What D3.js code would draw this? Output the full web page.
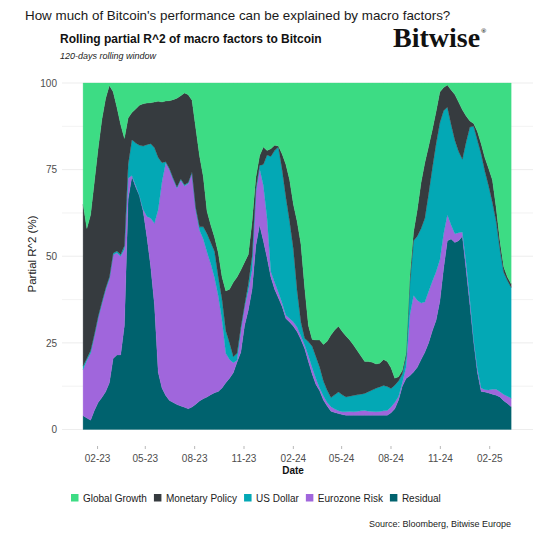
<!DOCTYPE html>
<html>
<head>
<meta charset="utf-8">
<script src="https://cdn.jsdelivr.net/npm/d3@7"></script>
<style>
  body { margin: 0; background: #fff; }
  svg { display: block; font-family: "Liberation Sans", Arial, sans-serif; }
</style>
</head>
<body>
<div id="chart"></div>
<script>
// weekly observations, first one on 2023-01-06
const startDate = "2023-01-06";

const residual = [
  4, 3.3, 2.7, 5.5, 7.8, 9.2, 10.9, 13.5, 20.5, 21.5,
  21.5, 30, 66.5, 73, 70, 67.5, 63, 55.5, 47, 36,
  16.5, 12, 9.8, 8.4, 7.8, 7.2, 6.8, 6.4, 6, 6.5,
  7.3, 8.2, 8.9, 9.4, 10, 10.6, 11, 12, 13.5, 14.8,
  16.4, 19.5, 22.3, 30, 34.5, 40.5, 53, 59, 54.5, 49.5,
  44, 40.5, 38, 35.5, 32, 31, 29.8, 28.2, 26, 23.4,
  19.6, 16, 13, 11.2, 8.5, 6.8, 5.3, 4.9, 4.6, 4.3,
  4.1, 4.1, 4.1, 4.1, 4.1, 4.1, 4.1, 4.1, 4.1, 4.1,
  4.1, 4.1, 4.8, 6, 8.5, 12.5, 14.7, 15.5, 16.6, 18,
  20.2, 22.3, 25, 28.5, 31.5, 37, 46.5, 54.5, 55, 54,
  54.5, 55.8, 46, 36, 25.5, 16.5, 11, 10.8, 10.5, 10.2,
  9.9, 9.4, 8.3, 7.5, 6.6
];
const eurozone = [
  13.3, 16.7, 19.3, 21.5, 24.3, 27.1, 29.4, 30, 29.9, 29.5,
  28.5, 22, 6, 0.3, 0.5, 0, 0.5, 6, 14, 23.5,
  47, 59.5, 67.2, 66.6, 64.4, 62.5, 65.2, 63.9, 65, 67.5,
  56.2, 49.3, 46.1, 41.8, 37.8, 33.2, 27.5, 19.5, 8.5, 5.4,
  2.9, 0.5, 6.2, 5.5, 5.7, 5.5, 15.5, 16.3, 16, 11.5,
  1.5, 2, 1.6, 1, 1, 1, 1.2, 1.3, 1, 1,
  1.7, 1.8, 1.7, 0.7, 1.2, 1, 1.3, 1, 0.8, 0.8,
  1, 1.1, 1, 1.1, 1.3, 1.4, 1.2, 1.1, 1, 1.1,
  1.3, 1.4, 1.7, 1.8, 1, 1, 3.3, 17.5, 22.1, 19.3,
  16.3, 14.5, 14.8, 14.3, 14, 12, 10, 7.5, 4, 2.5,
  2.3, 1.2, 2, 1.5, 0.5, 1, 1, 0.7, 0.9, 1.4,
  1.7, 1.5, 1.8, 2.1, 2.4
];
const usDollar = [
  1, 0.5, 0.8, 0.5, 0.5, 0.5, 0.5, 0.5, 0.5, 0.5,
  0.5, 1, 4, 10.3, 12.2, 14.5, 18.3, 20.7, 21.5, 21.8,
  15, 5.5, 0.3, 0.3, 0.3, 0.3, 0.3, 0.3, 0.3, 0.3,
  0.5, 1, 3.5, 5.3, 6.2, 7.6, 5.5, 6, 6.5, 4.8,
  1.7, 2, 1, 0.5, 1.8, 4, 1, 0.9, 6, 18.2,
  33.3, 38, 41.9, 38.5, 34, 28, 21, 10.5, 4, 1.9,
  4, 6.2, 6.3, 6.1, 4.3, 3.5, 2.6, 4.1, 5.4, 4.9,
  4.3, 4.4, 4.7, 4.8, 4.8, 4.9, 5.6, 6.2, 6.8, 7.1,
  7.3, 6.9, 5.3, 5, 4.5, 2.5, 3, 9, 15.8, 18.5,
  21.5, 24.2, 28.2, 32.7, 37, 39.5, 35.5, 31, 29, 27,
  23.4, 21, 35, 49.8, 61.5, 66, 67.5, 63, 58.9, 53.9,
  48.4, 41.1, 35.3, 33.4, 32
];
const monetary = [
  46.7, 37.5, 39.2, 44, 48.4, 52.7, 54.7, 55.3, 46.6, 41.5,
  37.5, 31, 13.4, 7.9, 9.8, 11.6, 12.2, 12, 11.8, 13.2,
  16.2, 17.5, 17.5, 19.6, 22.7, 25.6, 24, 26.5, 25.3, 20.7,
  23, 20.5, 14.5, 6.5, 5, 4.1, 7, 6.5, 11.5, 15.5,
  21.5, 22, 16.5, 12.3, 8.5, 10, 3.2, 2.8, 5, 1.3,
  2.2, 1.5, 0.3, 4.5, 9.5, 12, 13, 20, 22.5, 14.7,
  4.7, 2, 4.8, 7.8, 10.5, 14.2, 18.1, 18.7, 19, 18.3,
  17.6, 16.2, 14.6, 12.8, 11, 9.2, 8.7, 8, 7, 6.8,
  7.5, 7.2, 6, 2, 1.2, 1, 1, 2, 2.5, 7.7,
  13.3, 16, 13.7, 11, 9.3, 8.9, 6.7, 6.4, 10, 13.2,
  14.3, 14.3, 7.5, 1.7, 0.8, 2.5, 3, 3.9, 5, 6.5,
  4, 2.5, 1.6, 1, 1
];
const globalGrowth = [
  35, 42, 38, 28.5, 19, 10.5, 4.5, 0.7, 2.5, 7,
  12, 16, 10.1, 8.5, 7.5, 6.4, 6, 5.8, 5.7, 5.5,
  5.3, 5.5, 5.2, 5.1, 4.8, 4.4, 3.7, 2.9, 3.4, 5,
  13, 21, 27, 37, 41, 44.5, 49, 56, 60, 59.5,
  57.5, 56, 54, 51.7, 49.5, 40, 27.3, 21, 18.5, 19.5,
  19, 18, 18.2, 20.5, 23.5, 28, 35, 40, 46.5, 59,
  70, 74, 74.2, 74.2, 75.5, 74.5, 72.7, 71.3, 70.2, 71.7,
  73, 74.2, 75.6, 77.2, 78.8, 80.4, 80.4, 80.6, 81.1, 80.9,
  79.8, 80.4, 82.2, 85.2, 84.8, 83, 78, 56, 43, 36.5,
  28.7, 23, 18.3, 13.5, 8.2, 2.6, 1.3, 0.6, 2, 3.3,
  5.5, 7.7, 9.5, 11, 11.7, 14, 17.5, 21.6, 24.7, 28,
  36, 45.5, 53, 56, 58
];

// legend order (left to right) and stack order (bottom to top)
const legendNames = ["Global Growth", "Monetary Policy", "US Dollar", "Eurozone Risk", "Residual"];
const stackKeys = ["Residual", "Eurozone Risk", "US Dollar", "Monetary Policy", "Global Growth"];
const colors = {
  "Global Growth": "#3ddc84",
  "Monetary Policy": "#363b3f",
  "US Dollar": "#03a8b5",
  "Eurozone Risk": "#a066dc",
  "Residual": "#00626e"
};
const yTicks = [0, 25, 50, 75, 100];
const yGrid = [0, 12.5, 25, 37.5, 50, 62.5, 75, 87.5, 100];
const xTickDates = ["2023-02-01", "2023-05-01", "2023-08-01", "2023-11-01", "2024-02-01",
                    "2024-05-01", "2024-08-01", "2024-11-01", "2025-02-01"];

const W = 546, H = 541;
const parse = d3.timeParse("%Y-%m-%d");
const t0 = parse(startDate);

// build rows for d3.stack
const rows = residual.map((d, i) => ({
  date: d3.timeDay.offset(t0, 7 * i),
  "Residual": residual[i],
  "Eurozone Risk": eurozone[i],
  "US Dollar": usDollar[i],
  "Monetary Policy": monetary[i],
  "Global Growth": globalGrowth[i]
}));

const svg = d3.select("#chart").append("svg")
  .attr("width", W)
  .attr("height", H);

// data area and panel (panel is wider/taller like ggplot expansion)
const plot = { left: 83.1, right: 511.2, top: 83, bottom: 429.5 };
const panel = { left: 62, right: 533, bottom: 446 };

const x = d3.scaleTime()
  .domain(d3.extent(rows, d => d.date))
  .range([plot.left, plot.right]);

const y = d3.scaleLinear()
  .domain([0, 100])
  .range([plot.bottom, plot.top]);

// gridlines
svg.append("g")
  .selectAll("line")
  .data(yGrid)
  .enter()
  .append("line")
  .attr("x1", panel.left)
  .attr("x2", panel.right)
  .attr("y1", d => y(d))
  .attr("y2", d => y(d))
  .attr("stroke", "#ebebeb")
  .attr("stroke-width", d => d % 25 === 0 ? 0.9 : 0.6);

// stacked areas
const series = d3.stack().keys(stackKeys)(rows);

const area = d3.area()
  .x(d => x(d.data.date))
  .y0(d => y(d[0]))
  .y1(d => y(Math.min(d[1], 100)))
  .curve(d3.curveLinear);

svg.append("g")
  .selectAll("path")
  .data(series)
  .enter()
  .append("path")
  .attr("d", area)
  .attr("fill", d => colors[d.key])
  .attr("stroke", d => colors[d.key])
  .attr("stroke-width", 0.3);

// y axis
const yAxis = svg.append("g")
  .attr("transform", `translate(${57},0)`)
  .call(d3.axisLeft(y).tickValues(yTicks).tickSize(0).tickPadding(0));
yAxis.select(".domain").remove();
yAxis.selectAll("text")
  .attr("fill", "#4d4d4d")
  .attr("font-size", "10px")
  .attr("font-family", "Liberation Sans, Arial, sans-serif");

// x axis
const xAxis = svg.append("g")
  .attr("transform", `translate(0,${panel.bottom})`)
  .call(d3.axisBottom(x)
    .tickValues(xTickDates.map(parse))
    .tickFormat(d3.timeFormat("%m-%y"))
    .tickSize(3)
    .tickPadding(6));
xAxis.select(".domain").remove();
xAxis.selectAll("line").attr("stroke", "#9a9a9a").attr("stroke-width", 0.7);
xAxis.selectAll("text")
  .attr("fill", "#4d4d4d")
  .attr("font-size", "10px")
  .attr("font-family", "Liberation Sans, Arial, sans-serif");

// axis titles
svg.append("text")
  .attr("x", 293)
  .attr("y", 474)
  .attr("text-anchor", "middle")
  .attr("font-size", "10px")
  .attr("font-weight", "bold")
  .attr("fill", "#111")
  .text("Date");

svg.append("text")
  .attr("transform", `translate(36,254) rotate(-90)`)
  .attr("text-anchor", "middle")
  .attr("font-size", "11.5px")
  .attr("fill", "#1a1a1a")
  .text("Partial R^2 (%)");

// titles
svg.append("text")
  .attr("x", 25)
  .attr("y", 20)
  .attr("font-size", "13.4px")
  .attr("fill", "#1a1a1a")
  .text("How much of Bitcoin's performance can be explained by macro factors?");

svg.append("text")
  .attr("x", 60)
  .attr("y", 43)
  .attr("font-size", "12px")
  .attr("font-weight", "bold")
  .attr("fill", "#111")
  .text("Rolling partial R^2 of macro factors to Bitcoin");

svg.append("text")
  .attr("x", 60)
  .attr("y", 59)
  .attr("font-size", "9px")
  .attr("font-style", "italic")
  .attr("fill", "#222")
  .text("120-days rolling window");

// logo
const logo = svg.append("text")
  .attr("x", 393)
  .attr("y", 47)
  .attr("font-family", "Liberation Serif, 'DejaVu Serif', serif")
  .attr("font-weight", "bold")
  .attr("font-size", "28px")
  .attr("fill", "#111")
  .text("Bitwise");
logo.append("tspan")
  .attr("font-size", "7px")
  .attr("dy", "-14")
  .attr("dx", "1")
  .text("®");

// legend
const legend = svg.append("g").attr("transform", "translate(71,494)");
let lx = 0;
legendNames.forEach(name => {
  const g = legend.append("g").attr("transform", `translate(${lx},0)`);
  g.append("rect")
    .attr("width", 7.5)
    .attr("height", 7.5)
    .attr("fill", colors[name]);
  const t = g.append("text")
    .attr("x", 12)
    .attr("y", 7.8)
    .attr("font-size", "10px")
    .attr("fill", "#222")
    .text(name);
  lx += 12 + t.node().getComputedTextLength() + 7;
});

// source
svg.append("text")
  .attr("x", 511)
  .attr("y", 527)
  .attr("text-anchor", "end")
  .attr("font-size", "9px")
  .attr("fill", "#222")
  .text("Source: Bloomberg, Bitwise Europe");
</script>
</body>
</html>
